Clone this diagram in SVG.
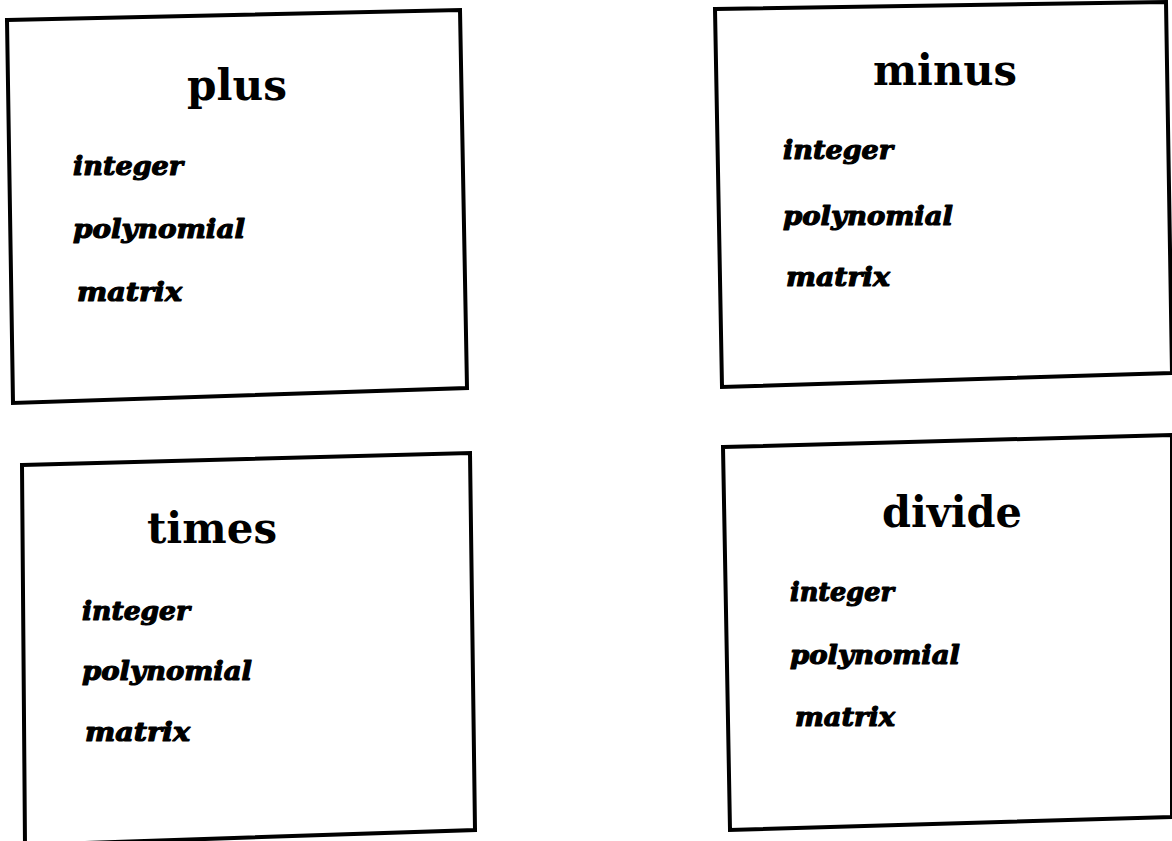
<svg xmlns="http://www.w3.org/2000/svg" width="1172" height="841" viewBox="0 0 1172 841">
<style>
.box{fill:#fff;stroke:#000;stroke-width:4;stroke-linejoin:miter}
.title{font-family:"DejaVu Serif","Liberation Serif",serif;font-size:42px;font-weight:bold;fill:#000}
.item{font-family:"DejaVu Serif","Liberation Serif",serif;font-size:26px;font-weight:bold;font-style:italic;fill:#000;stroke:#000;stroke-width:1.2;stroke-linejoin:round}
</style>
<rect width="1172" height="841" fill="#fff"/>
<g id="plus">
<polygon class="box" points="7,20 460,10 467,388 13,403"/>
<text class="title" x="187" y="100" textLength="100" lengthAdjust="spacingAndGlyphs">plus</text>
<text class="item" x="73" y="175" textLength="110" lengthAdjust="spacingAndGlyphs">integer</text>
<text class="item" x="73" y="238" textLength="172" lengthAdjust="spacingAndGlyphs">polynomial</text>
<text class="item" x="77" y="301" textLength="105" lengthAdjust="spacingAndGlyphs">matrix</text>
</g>
<g id="minus">
<polygon class="box" points="715,9 1166,2 1172,373 722,387"/>
<text class="title" x="873" y="85" textLength="144" lengthAdjust="spacingAndGlyphs">minus</text>
<text class="item" x="783" y="159" textLength="110" lengthAdjust="spacingAndGlyphs">integer</text>
<text class="item" x="783" y="225" textLength="170" lengthAdjust="spacingAndGlyphs">polynomial</text>
<text class="item" x="786" y="286" textLength="104" lengthAdjust="spacingAndGlyphs">matrix</text>
</g>
<g id="times">
<polygon class="box" points="22,465 470,453 475,830 25,845"/>
<text class="title" x="147" y="543" textLength="130" lengthAdjust="spacingAndGlyphs">times</text>
<text class="item" x="82" y="620" textLength="108" lengthAdjust="spacingAndGlyphs">integer</text>
<text class="item" x="82" y="680" textLength="170" lengthAdjust="spacingAndGlyphs">polynomial</text>
<text class="item" x="85" y="741" textLength="105" lengthAdjust="spacingAndGlyphs">matrix</text>
</g>
<g id="divide">
<polygon class="box" points="723,447 1172,435 1172,817 730,830"/>
<text class="title" x="882" y="527" textLength="140" lengthAdjust="spacingAndGlyphs">divide</text>
<text class="item" x="790" y="601" textLength="104" lengthAdjust="spacingAndGlyphs">integer</text>
<text class="item" x="790" y="664" textLength="170" lengthAdjust="spacingAndGlyphs">polynomial</text>
<text class="item" x="795" y="726" textLength="100" lengthAdjust="spacingAndGlyphs">matrix</text>
</g>
<g id="connectors"></g>
</svg>
